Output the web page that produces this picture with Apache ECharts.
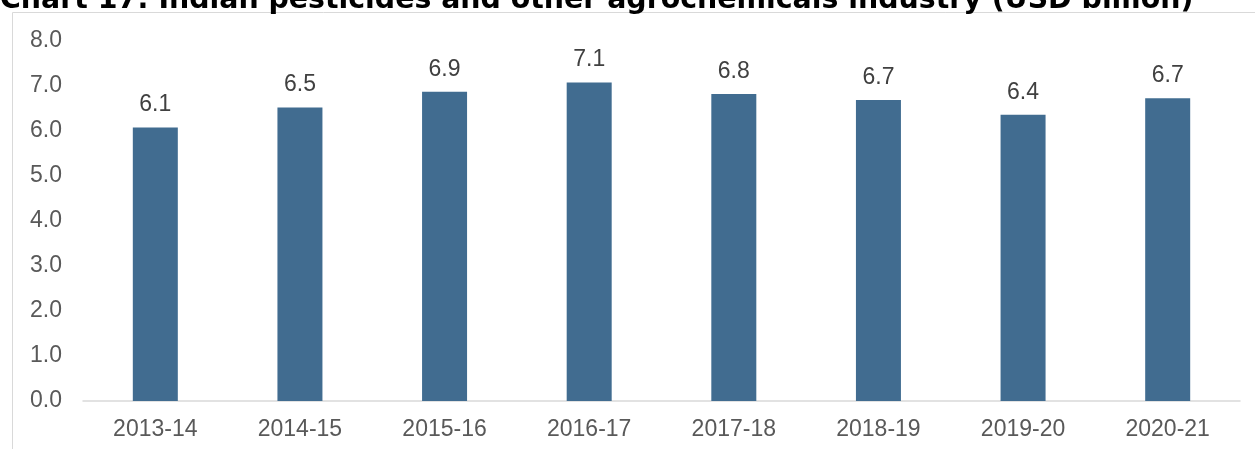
<!DOCTYPE html>
<html>
<head>
<meta charset="utf-8">
<script src="https://cdn.jsdelivr.net/npm/echarts@6/dist/echarts.min.js"></script>
<style>
  html, body { margin: 0; padding: 0; background: #fff; }
  #chart { width: 1255px; height: 449px; }
</style>
</head>
<body>
<div id="chart"></div>
<script>
// chart data
const years = ['2013-14', '2014-15', '2015-16', '2016-17', '2017-18', '2018-19', '2019-20', '2020-21']
const industrySize = [6.08, 6.52, 6.87, 7.08, 6.82, 6.69, 6.36, 6.73]
const yTicks = [0, 8, 1]  // min, max, step

const chart = echarts.init(document.getElementById('chart'))

chart.setOption({
    animation: false,
    graphic: [
        {
            type: 'rect',
            shape: { x: 12.5, y: 12.5, width: 1300, height: 500 },
            style: { fill: 'none', stroke: '#d9d9d9', lineWidth: 1 }
        },
        {
            type: 'text',
            left: 0,
            top: -13,
            style: {
                text: 'Chart 17: Indian pesticides and other agrochemicals industry (USD billion)',
                font: 'bold 28.4px "DejaVu Sans"',
                fill: '#000'
            }
        }
    ],
    grid: { left: 83, right: 15, top: 41, bottom: 48 },
    xAxis: {
        type: 'category',
        data: years,
        axisLine: { lineStyle: { color: '#d9d9d9', width: 1.5 } },
        axisTick: { show: false },
        axisLabel: { color: '#595959', fontSize: 23, fontFamily: 'Liberation Sans', margin: 17 }
    },
    yAxis: {
        type: 'value',
        min: yTicks[0],
        max: yTicks[1],
        interval: yTicks[2],
        splitLine: { show: false },
        axisLine: { show: false },
        axisTick: { show: false },
        axisLabel: {
            color: '#595959', fontSize: 23, fontFamily: 'Liberation Sans', margin: 21,
            formatter: v => v.toFixed(1)
        }
    },
    series: [{
        type: 'bar',
        data: industrySize,
        barWidth: 45,
        itemStyle: { color: '#416c90' },
        label: {
            show: true,
            position: 'top',
            distance: 11,
            color: '#404040',
            fontSize: 23,
            fontFamily: 'Liberation Sans',
            formatter: p => p.value.toFixed(1)
        }
    }]
})
</script>
</body>
</html>
